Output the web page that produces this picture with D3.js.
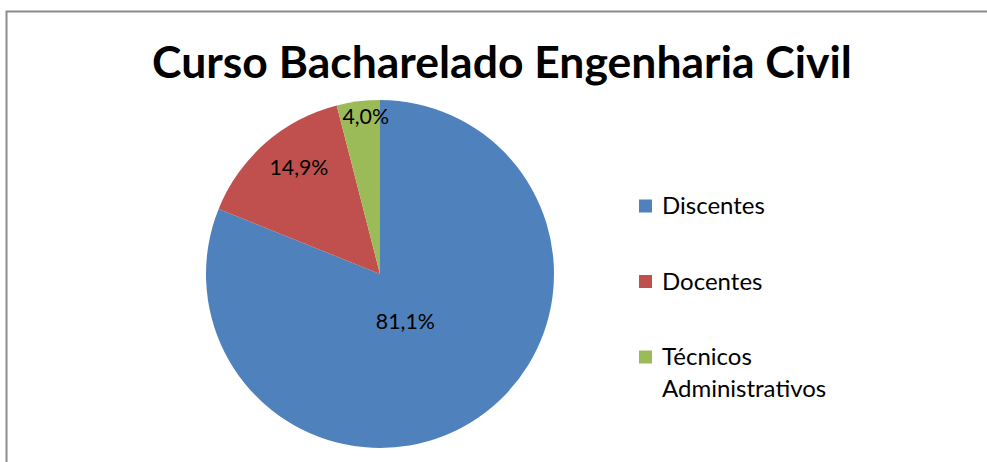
<!DOCTYPE html>
<html>
<head>
<meta charset="utf-8">
<script src="https://cdn.jsdelivr.net/npm/d3@7"></script>
<style>
  html, body { margin: 0; background: #fff; overflow: hidden; }
  svg { display: block; font-family: Lato, "Open Sans", sans-serif; }
</style>
</head>
<body>
<svg width="987" height="462"></svg>
<script>
const categories = ["Discentes", "Docentes", "Técnicos Administrativos"];
const values = [81.1, 14.9, 4.0];
const labels = ["81,1%", "14,9%", "4,0%"];
const colors = ["#4F81BD", "#C0504D", "#9BBB59"];

const svg = d3.select("svg");

// fit a text element to a target width
function fitWidth(sel, target) {
  const fs = +sel.attr("font-size");
  const w = sel.node().getComputedTextLength();
  sel.attr("font-size", fs * target / w);
}

// chart border: only top and left edges are inside the picture
svg.append("path")
  .attr("d", "M6.5,462V11.5H987")
  .attr("fill", "none")
  .attr("stroke", "#8c8c8c")
  .attr("stroke-width", 2);

// title
const title = svg.append("text")
  .attr("x", 502).attr("y", 78)
  .attr("text-anchor", "middle")
  .attr("font-weight", "bold")
  .attr("font-size", 40)
  .text("Curso Bacharelado Engenharia Civil");
fitWidth(title, 700);

// pie
const cx = 380, cy = 274, R = 174;
const pie = d3.pie().sort(null).value(d => d);
const arcs = pie(values);
const arc = d3.arc().innerRadius(0).outerRadius(R);

const g = svg.append("g").attr("transform", `translate(${cx},${cy})`);

g.selectAll("path")
  .data(arcs)
  .enter()
  .append("path")
  .attr("d", arc)
  .attr("fill", (d, i) => colors[i]);

// data labels, best-fit style inside the slices
const labelFrac = [0.31, 0.77, 0.906];
const labelTurn = [6, 4, 2]; // degrees
const lbl = g.selectAll("text.lbl")
  .data(arcs)
  .enter()
  .append("text")
  .attr("class", "lbl")
  .attr("transform", (d, i) => {
    const a = (d.startAngle + d.endAngle) / 2 + labelTurn[i] * Math.PI / 180;
    const r = R * labelFrac[i];
    return `translate(${Math.sin(a) * r},${-Math.cos(a) * r})`;
  })
  .attr("text-anchor", "middle")
  .attr("dy", "0.35em")
  .attr("font-size", 20)
  .attr("fill", "#000")
  .text((d, i) => labels[i]);
const lblSize = 20 * 59 / lbl.filter((d, i) => i === 0).node().getComputedTextLength();
lbl.attr("font-size", lblSize);

// legend
const legendY = d3.scalePoint().domain(categories).range([206, 357]);
const leg = svg.selectAll("g.leg")
  .data(categories)
  .enter()
  .append("g")
  .attr("class", "leg")
  .attr("transform", d => `translate(639,${legendY(d)})`);

leg.append("rect")
  .attr("x", 0).attr("y", -6.5)
  .attr("width", 13).attr("height", 13)
  .attr("fill", (d, i) => colors[i]);

const legText = leg.append("text")
  .attr("x", 23)
  .attr("font-size", 22)
  .attr("fill", "#000")
  .each(function(d) {
    const words = d.split(" ");
    const t = d3.select(this);
    words.forEach((w, j) => {
      t.append("tspan")
        .attr("x", 23)
        .attr("y", j === 0 ? 8 : 8 + j * 32)
        .text(w);
    });
  });
const legSize = 22 * 103 / legText.filter((d, i) => i === 0).node().getComputedTextLength();
legText.attr("font-size", legSize);
</script>
</body>
</html>
